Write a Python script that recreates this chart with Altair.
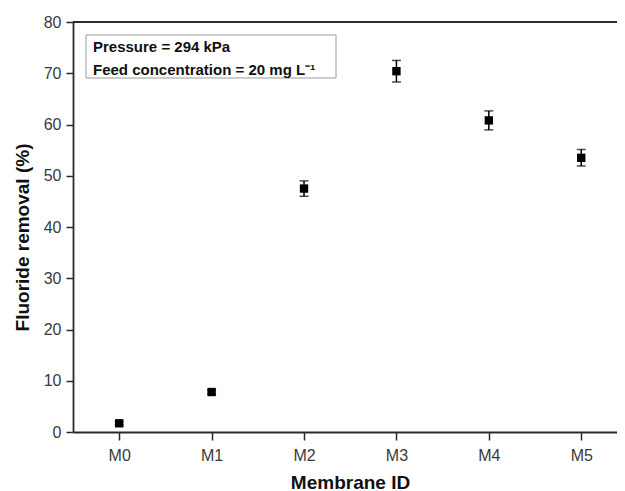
import altair as alt
import pandas as pd

membranes = ["M0", "M1", "M2", "M3", "M4", "M5"]
removal = [1.7, 7.8, 47.5, 70.4, 60.8, 53.5]
error = [0.3, 0.4, 1.5, 2.1, 1.85, 1.6]
y_ticks = [0, 10, 20, 30, 40, 50, 60, 70, 80]
legend_lines = ["Pressure = 294 kPa", "Feed concentration = 20 mg L\u207b\u00b9"]

df = pd.DataFrame({
    "idx": list(range(len(membranes))),
    "membrane": membranes,
    "removal": removal,
    "err": error,
})
df["lo"] = df["removal"] - df["err"]
df["hi"] = df["removal"] + df["err"]

W, H = 544, 410
XMAX = 5.387
FONT = "Liberation Sans"
AX = "#2a2a2a"

label_expr = "[" + ",".join(f"'{m}'" for m in membranes) + "][datum.value]"
xscale = alt.Scale(domain=[-0.5, XMAX], nice=False, zero=False)
yscale = alt.Scale(domain=[0, 80], nice=False)

x_enc = alt.X(
    "idx:Q",
    scale=xscale,
    axis=alt.Axis(
        values=list(range(len(membranes))),
        labelExpr=label_expr,
        title="Membrane ID",
        tickSize=8,
        labelPadding=7,
        titleX=277,
        titleY=56,
        titleBaseline="alphabetic",
    ),
)
y_enc = alt.Y(
    "removal:Q",
    scale=yscale,
    axis=alt.Axis(
        values=y_ticks,
        title="Fluoride removal (%)",
        tickSize=7,
        labelPadding=5,
        titleX=-51,
        titleY=215,
        titleBaseline="middle",
    ),
)

base = alt.Chart(df)

rules = base.mark_rule(color="black", strokeWidth=1.5).encode(
    x=alt.X("idx:Q", scale=xscale), y=alt.Y("lo:Q", scale=yscale), y2="hi:Q"
)
caps_lo = base.mark_tick(color="black", orient="horizontal", size=9, thickness=1.5).encode(
    x=alt.X("idx:Q", scale=xscale), y=alt.Y("lo:Q", scale=yscale)
)
caps_hi = base.mark_tick(color="black", orient="horizontal", size=9, thickness=1.5).encode(
    x=alt.X("idx:Q", scale=xscale), y=alt.Y("hi:Q", scale=yscale)
)
points = base.mark_point(shape="square", filled=True, size=70, color="black", opacity=1).encode(
    x=x_enc, y=y_enc
)

top_line = alt.Chart(pd.DataFrame({"a": [0]})).mark_rule(color=AX, strokeWidth=1.8).encode(
    x=alt.value(0), x2=alt.value(W), y=alt.value(0)
)

box = alt.Chart(pd.DataFrame({"a": [0]})).mark_rect(
    fill="white", stroke="#9a9a9a", strokeWidth=1
).encode(x=alt.value(13), x2=alt.value(263), y=alt.value(13), y2=alt.value(56))

leg_df = pd.DataFrame({"line": legend_lines})
txt1 = alt.Chart(leg_df.iloc[[0]]).mark_text(
    align="left", baseline="alphabetic", font=FONT, fontSize=15, fontWeight="bold", color="#111"
).encode(x=alt.value(20), y=alt.value(30), text="line:N")
txt2 = alt.Chart(leg_df.iloc[[1]]).mark_text(
    align="left", baseline="alphabetic", font=FONT, fontSize=15, fontWeight="bold", color="#111"
).encode(x=alt.value(20), y=alt.value(53), text="line:N")

chart = (
    alt.layer(points, rules, caps_lo, caps_hi, top_line, box, txt1, txt2)
    .properties(
        width=W,
        height=H,
        autosize=alt.AutoSizeParams(type="none"),
        padding={"left": 65, "top": 14, "right": 0, "bottom": 59},
    )
    .configure_view(stroke=None)
    .configure_axis(
        grid=False,
        domainColor=AX,
        domainWidth=1.8,
        tickColor=AX,
        tickWidth=1.5,
        labelFont=FONT,
        labelFontSize=16,
        labelColor="#3a3a3a",
        titleFont=FONT,
        titleFontSize=19,
        titleFontWeight="bold",
        titleColor="#111",
    )
)

chart.save("out.html", embed_options={"renderer": "svg", "actions": False})
